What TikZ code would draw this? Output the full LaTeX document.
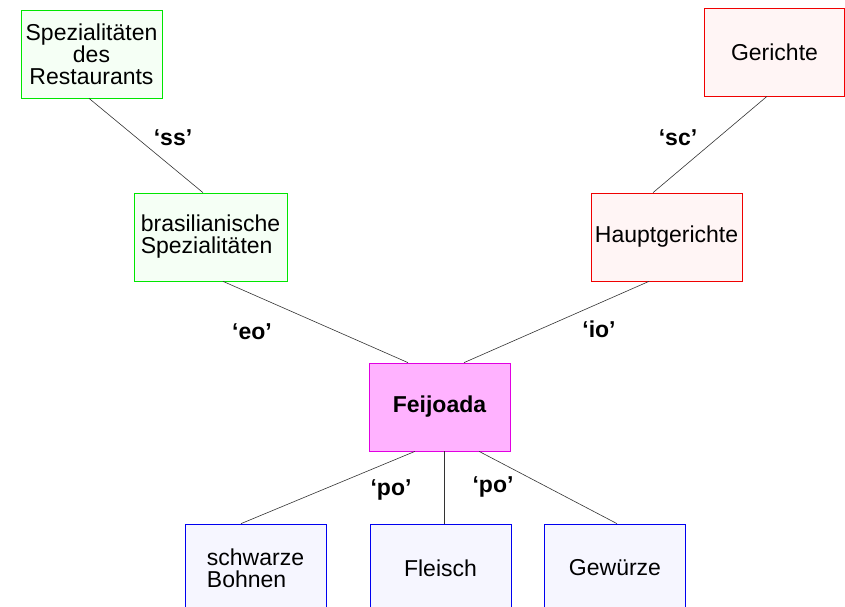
\documentclass[tikz,border=0pt]{standalone}
\usepackage{fontspec}
\setmainfont{Liberation Sans}
\usepackage{xcolor}
\definecolor{spGreen}{RGB}{0,230,0}
\definecolor{spGreenFill}{RGB}{245,255,245}
\definecolor{grRed}{RGB}{240,0,0}
\definecolor{grRedFill}{RGB}{255,245,245}
\definecolor{fjMagenta}{RGB}{225,0,225}
\definecolor{fjFill}{RGB}{255,178,255}
\definecolor{inBlue}{RGB}{0,0,240}
\definecolor{inBlueFill}{RGB}{246,246,255}
\usepackage{tikz}
\usetikzlibrary{positioning}

\begin{document}
\begin{tikzpicture}[
    x=1pt, y=1pt,
    font=\fontsize{23}{22}\selectfont,
    concept/.style={rectangle, inner sep=0pt, line width=0.7pt, minimum width=141pt, minimum height=88pt},
    spezbox/.style={concept, draw=spGreen, fill=spGreenFill},
    gerbox/.style={concept, draw=grRed, fill=grRedFill},
    feijbox/.style={concept, draw=fjMagenta, fill=fjFill, font=\fontsize{23}{22}\selectfont\bfseries},
    zutbox/.style={concept, draw=inBlue, fill=inBlueFill},
    rel/.style={draw=black!80, line width=0.6pt},
    rellabel/.style={font=\fontsize{23}{22}\selectfont\bfseries}
]
\useasboundingbox (0,0) rectangle (845,607);
\begin{scope}
\clip (0,0) rectangle (845,607);

\node (spez_rest) [spezbox, align=center] at (91.5,553) {Spezialit\"aten\\des\\Restaurants};
\node (spez_bras) [spezbox, align=left, minimum width=153pt] at (210.5,370) {brasilianische\\Spezialit\"aten};
\node (gerichte) [gerbox, minimum width=140pt] at (774.5,555) {Gerichte};
\node (haupt) [gerbox, minimum width=151pt] at (666.5,370) {Hauptgerichte};
\node (feijoada) [feijbox] at (439.5,200) {Feijoada};

\node (bohnen) [zutbox, align=left] at (255.5,39) {schwarze\\Bohnen};
\node (fleisch) [zutbox] at (440.5,39) {Fleisch};
\node (gewuerze) [zutbox] at (615,39) {Gew\"urze};

% relations between the concepts
\draw [rel] ([xshift=-2.5pt]spez_rest.south) -- ([xshift=-7.5pt]spez_bras.north);
\draw [rel] ([xshift=-7.5pt]gerichte.south) -- ([xshift=-13.5pt]haupt.north);
\draw [rel] ([xshift=12.5pt]spez_bras.south) -- ([xshift=-31.5pt]feijoada.north);
\draw [rel] ([xshift=-17.5pt]haupt.south) -- ([xshift=24.5pt]feijoada.north);
\draw [rel] ([xshift=-24.5pt]feijoada.south) -- ([xshift=-14.5pt]bohnen.north);
\draw [rel] ([xshift=4.5pt]feijoada.south) -- ([xshift=3.5pt]fleisch.north);
\draw [rel] ([xshift=39.5pt]feijoada.south) -- ([xshift=2pt]gewuerze.north);

\node [rellabel] at (173,469) {`ss'};
\node [rellabel] at (678,469) {`sc'};
\node [rellabel] at (252,275) {`eo'};
\node [rellabel] at (599,278) {`io'};
\node [rellabel] at (391,117) {`po'};
\node [rellabel] at (493,120) {`po'};
\end{scope}
\end{tikzpicture}
\end{document}
